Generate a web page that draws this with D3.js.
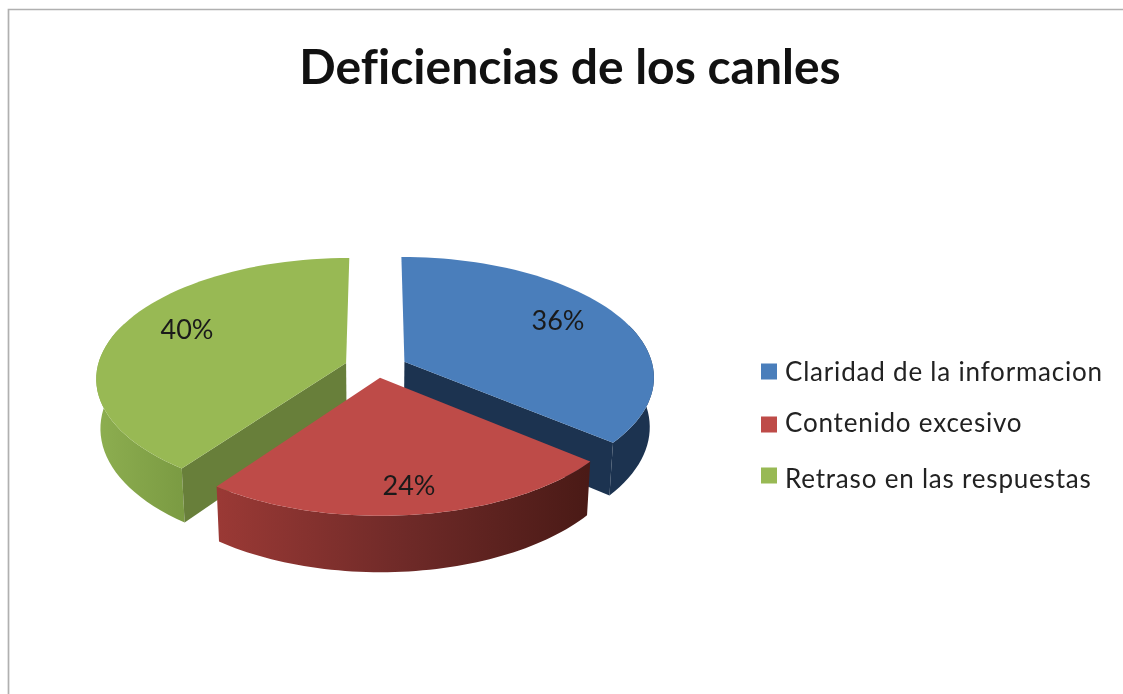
<!DOCTYPE html>
<html><head><meta charset="utf-8">
<script src="https://cdn.jsdelivr.net/npm/d3@7/dist/d3.min.js"></script>
<style>html,body{margin:0;padding:0;background:#fff}svg{display:block;filter:blur(0.6px)}text{font-variant-ligatures:none}</style>
</head><body><svg id="c" width="1123" height="694"></svg>
<script>
const categories = ["Claridad de la informacion", "Contenido excesivo", "Retraso en las respuestas"];
const values = [36, 24, 40];
const valueLabels = ["36%", "24%", "40%"];
const chartTitle = "Deficiencias de los canles";
const topColors = ["#4a7ebb", "#be4b48", "#98b954"];
const cutColors = ["#1c3350", "#4a1a16", "#687f3a"];
const wallStops = [["#1c3350", "#1c3350"], ["#9a3935", "#6f2a28", "#4a1a16"], ["#8dae50", "#7a9a42"]];

const W = 1123, H = 694;
const svg = d3.select("#c");
const CX = 376, CY = 366.5, RX = 248.5, RY = 118.5, K = 0.12, EXPLODE = 0.127, EXPLODE_V = 0.75, DEPTH = 49, BOTTOM_SHRINK = 0.985;

function project(X, V, bottom) {
  const s = 1 / (1 - K * V);
  let x = CX + X * RX * s;
  let y = CY + V * RY * s;
  if (bottom) { x = CX + (x - CX) * BOTTOM_SHRINK; y += DEPTH * s; }
  return [x, y];
}
const arcs = d3.pie().sort(null).startAngle(0).endAngle(2 * Math.PI)(values);
const line = d3.line();
const color = d3.scaleOrdinal().domain(categories).range(topColors);

const defs = svg.append("defs");
const grads = [[405, 655], [219, 588], [97, 187]];
categories.forEach((c, i) => {
  const g = defs.append("linearGradient").attr("id", "w" + i).attr("gradientUnits", "userSpaceOnUse")
    .attr("x1", grads[i][0]).attr("x2", grads[i][1]).attr("y1", 0).attr("y2", 0);
  wallStops[i].forEach((col, j, a) => g.append("stop").attr("offset", j / (a.length - 1)).attr("stop-color", col));
});

// frame
svg.append("path").attr("d", line([[8.5, H], [8.5, 9.5], [W, 9.5]])).attr("fill", "none").attr("stroke", "#b0b0b0").attr("stroke-width", 1.7);

function slice(a) {
  const mid = (a.startAngle + a.endAngle) / 2;
  const ox = EXPLODE * Math.sin(mid), ov = -EXPLODE * Math.cos(mid) * EXPLODE_V;
  const thetas = d3.range(0, 61).map(k => a.startAngle + (a.endAngle - a.startAngle) * k / 60);
  // only the part of the rim that faces the viewer gets a wall
  const front = thetas.filter(t => Math.cos(t) < 0.35);
  const pt = (t, b) => project(ox + Math.sin(t), ov - Math.cos(t), b);
  const apex = b => project(ox, ov, b);
  return {
    top: [apex(false), ...thetas.map(t => pt(t, false))],
    wall: [...front.map(t => pt(t, false)), ...front.slice().reverse().map(t => pt(t, true))],
    cutEnd: [apex(false), pt(a.endAngle, false), pt(a.endAngle, true), apex(true)],
    cutStart: [apex(false), pt(a.startAngle, false), pt(a.startAngle, true), apex(true)]
  };
}
const order = [0, 2, 1];
const g = svg.append("g");
order.forEach(i => {
  const s = slice(arcs[i]);
  g.append("path").attr("d", line(s.wall) + "Z").attr("fill", `url(#w${i})`);
  if (i === 0) g.append("path").attr("d", line(s.cutEnd) + "Z").attr("fill", cutColors[i]);
  if (i === 2) g.append("path").attr("d", line(s.cutStart) + "Z").attr("fill", cutColors[i]);
  g.append("path").attr("d", line(s.top) + "Z").attr("fill", color(categories[i]));
});

// value labels
const labelXY = [[558, 320], [409, 485], [187, 329]];
svg.selectAll("text.v").data(valueLabels).join("text").attr("class", "v")
  .attr("x", (d, i) => labelXY[i][0]).attr("y", (d, i) => labelXY[i][1] + 9.5)
  .attr("text-anchor", "middle").attr("font-family", "Lato").attr("font-size", 27).attr("fill", "#1a1a1a").text(d => d);

// title
svg.append("text").attr("x", 570).attr("y", 84).attr("text-anchor", "middle")
  .attr("font-family", "Lato").attr("font-weight", 700).attr("font-size", 48).attr("fill", "#111").text(chartTitle);

// legend
const legendY = [371.5, 424.5, 475.5];
const legendTextY = [381, 432, 488];
const lg = svg.append("g");
categories.forEach((c, i) => {
  lg.append("rect").attr("x", 761).attr("y", legendY[i] - 8).attr("width", 16).attr("height", 16).attr("fill", color(c));
  lg.append("text").attr("x", 785).attr("y", legendTextY[i]).attr("font-family", "Lato").attr("font-size", 26).attr("letter-spacing", 0.8).attr("fill", "#222").text(c);
});
</script></body></html>
